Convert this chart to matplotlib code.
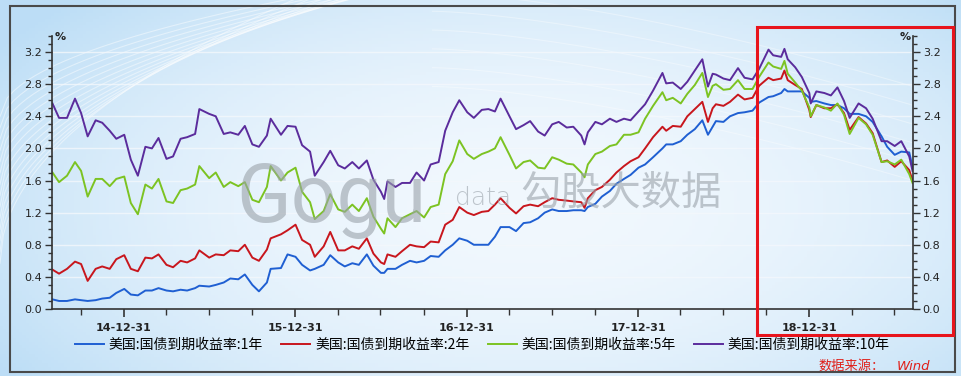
import matplotlib
matplotlib.use("Agg")
import numpy as np
import pandas as pd
import matplotlib.pyplot as plt
import matplotlib.dates as mdates
from matplotlib.patches import Rectangle
from matplotlib.ticker import MultipleLocator

# ---- data (roughly semi-monthly) ----
dates = [
    # 2014
    "2014-08-01", "2014-08-15", "2014-09-01", "2014-09-18", "2014-10-01", "2014-10-15",
    "2014-11-01", "2014-11-15", "2014-12-01", "2014-12-15",
    # 2015
    "2015-01-01", "2015-01-15", "2015-01-30", "2015-02-15", "2015-03-01", "2015-03-15",
    "2015-04-01", "2015-04-15", "2015-05-01", "2015-05-15", "2015-06-01", "2015-06-10",
    "2015-07-01", "2015-07-15", "2015-08-01", "2015-08-15", "2015-09-01", "2015-09-15",
    "2015-10-01", "2015-10-15", "2015-11-01", "2015-11-09", "2015-12-01", "2015-12-15",
    # 2016
    "2016-01-01", "2016-01-15", "2016-02-01", "2016-02-11", "2016-03-01", "2016-03-15",
    "2016-04-01", "2016-04-15", "2016-05-01", "2016-05-15", "2016-06-01", "2016-06-15",
    "2016-07-01", "2016-07-08", "2016-07-15", "2016-08-01", "2016-08-15", "2016-09-01",
    "2016-09-15", "2016-10-01", "2016-10-15", "2016-11-01", "2016-11-15", "2016-12-01",
    "2016-12-15",
    # 2017
    "2017-01-01", "2017-01-15", "2017-02-01", "2017-02-15", "2017-03-01", "2017-03-13",
    "2017-04-01", "2017-04-15", "2017-05-01", "2017-05-15", "2017-06-01", "2017-06-15",
    "2017-07-01", "2017-07-15", "2017-08-01", "2017-08-15", "2017-09-01", "2017-09-08",
    "2017-09-15", "2017-10-01", "2017-10-15", "2017-11-01", "2017-11-15", "2017-12-01",
    "2017-12-15",
    # 2018
    "2018-01-01", "2018-01-15", "2018-02-01", "2018-02-21", "2018-03-01", "2018-03-15",
    "2018-04-01", "2018-04-15", "2018-05-01", "2018-05-17", "2018-05-29", "2018-06-08",
    "2018-06-15", "2018-07-01", "2018-07-15", "2018-08-01", "2018-08-15", "2018-09-01",
    "2018-09-15", "2018-10-05", "2018-10-15", "2018-11-01", "2018-11-08", "2018-11-15",
    "2018-12-01", "2018-12-15", "2018-12-31",
    # 2019
    "2019-01-03", "2019-01-15", "2019-02-01", "2019-02-15", "2019-03-01", "2019-03-15",
    "2019-03-27", "2019-04-15", "2019-05-01", "2019-05-15", "2019-06-03", "2019-06-15",
    "2019-07-01", "2019-07-15", "2019-08-01", "2019-08-08",
]

y1 = [0.12, 0.10, 0.10, 0.12, 0.11, 0.10, 0.11, 0.13, 0.14, 0.20,
      0.25, 0.18, 0.17, 0.23, 0.23, 0.26, 0.23, 0.22, 0.24, 0.23, 0.26, 0.29,
      0.28, 0.30, 0.33, 0.38, 0.37, 0.43, 0.30, 0.22, 0.33, 0.50, 0.51, 0.68,
      0.65, 0.55, 0.48, 0.50, 0.55, 0.67, 0.58, 0.53, 0.57, 0.55, 0.68, 0.54,
      0.45, 0.45, 0.50, 0.50, 0.55, 0.60, 0.58, 0.60, 0.66, 0.65, 0.73, 0.80, 0.88,
      0.85, 0.80, 0.80, 0.80, 0.90, 1.02, 1.02, 0.97, 1.07, 1.08, 1.13, 1.20,
      1.24, 1.22, 1.22, 1.23, 1.23, 1.22, 1.27, 1.31, 1.40, 1.47, 1.56, 1.62, 1.67,
      1.76, 1.80, 1.89, 2.00, 2.05, 2.05, 2.09, 2.17, 2.24, 2.35, 2.17, 2.27,
      2.34, 2.33, 2.40, 2.44, 2.45, 2.47, 2.57, 2.64, 2.65, 2.69, 2.74, 2.71,
      2.71, 2.71, 2.63,
      2.58, 2.59, 2.56, 2.54, 2.54, 2.50, 2.43, 2.43, 2.40, 2.33, 2.15, 2.02,
      1.92, 1.96, 1.95, 1.77]

y2 = [0.49, 0.44, 0.50, 0.59, 0.56, 0.35, 0.50, 0.53, 0.50, 0.62,
      0.67, 0.50, 0.47, 0.64, 0.63, 0.68, 0.55, 0.52, 0.60, 0.58, 0.63, 0.73,
      0.64, 0.68, 0.67, 0.73, 0.72, 0.80, 0.64, 0.60, 0.74, 0.88, 0.93, 0.98,
      1.05, 0.86, 0.80, 0.65, 0.78, 0.96, 0.73, 0.73, 0.78, 0.75, 0.88, 0.69,
      0.58, 0.56, 0.68, 0.65, 0.72, 0.80, 0.78, 0.77, 0.84, 0.83, 1.05, 1.11, 1.27,
      1.20, 1.17, 1.21, 1.22, 1.30, 1.38, 1.26, 1.19, 1.28, 1.30, 1.28, 1.33,
      1.38, 1.36, 1.35, 1.34, 1.33, 1.26, 1.38, 1.48, 1.52, 1.61, 1.70, 1.78, 1.84,
      1.89, 2.00, 2.14, 2.27, 2.22, 2.28, 2.27, 2.40, 2.49, 2.58, 2.33, 2.50,
      2.55, 2.53, 2.58, 2.67, 2.61, 2.63, 2.78, 2.88, 2.85, 2.87, 2.97, 2.85,
      2.79, 2.74, 2.48,
      2.39, 2.54, 2.50, 2.50, 2.55, 2.44, 2.23, 2.39, 2.31, 2.19, 1.83, 1.85,
      1.77, 1.84, 1.73, 1.60]

y5 = [1.70, 1.58, 1.66, 1.83, 1.72, 1.40, 1.62, 1.62, 1.53, 1.62,
      1.65, 1.32, 1.18, 1.55, 1.50, 1.62, 1.34, 1.32, 1.48, 1.50, 1.55, 1.78,
      1.63, 1.70, 1.52, 1.58, 1.53, 1.58, 1.36, 1.33, 1.52, 1.78, 1.60, 1.70,
      1.76, 1.46, 1.33, 1.12, 1.22, 1.43, 1.24, 1.21, 1.30, 1.22, 1.38, 1.15,
      1.00, 0.94, 1.13, 1.02, 1.13, 1.18, 1.22, 1.14, 1.27, 1.30, 1.68, 1.84, 2.10,
      1.93, 1.87, 1.93, 1.96, 2.00, 2.14, 1.92, 1.75, 1.83, 1.85, 1.76, 1.75,
      1.89, 1.86, 1.81, 1.80, 1.70, 1.64, 1.80, 1.93, 1.96, 2.03, 2.05, 2.17, 2.17,
      2.20, 2.37, 2.53, 2.70, 2.60, 2.63, 2.56, 2.68, 2.79, 2.94, 2.64, 2.78,
      2.80, 2.73, 2.74, 2.85, 2.74, 2.74, 2.89, 3.07, 3.02, 2.99, 3.09, 2.93,
      2.82, 2.72, 2.51,
      2.40, 2.54, 2.51, 2.47, 2.56, 2.42, 2.18, 2.38, 2.30, 2.17, 1.83, 1.84,
      1.80, 1.86, 1.68, 1.57]

y10 = [2.56, 2.38, 2.38, 2.62, 2.44, 2.15, 2.35, 2.32, 2.22, 2.12,
       2.17, 1.86, 1.66, 2.02, 2.00, 2.13, 1.87, 1.90, 2.12, 2.14, 2.18, 2.49,
       2.43, 2.40, 2.18, 2.20, 2.17, 2.28, 2.05, 2.02, 2.16, 2.37, 2.17, 2.28,
       2.27, 2.04, 1.96, 1.66, 1.83, 1.97, 1.79, 1.75, 1.83, 1.75, 1.85, 1.61,
       1.46, 1.37, 1.59, 1.52, 1.57, 1.57, 1.70, 1.60, 1.80, 1.83, 2.22, 2.45, 2.60,
       2.45, 2.38, 2.48, 2.49, 2.46, 2.62, 2.40, 2.24, 2.29, 2.34, 2.21, 2.16,
       2.30, 2.33, 2.26, 2.27, 2.16, 2.05, 2.20, 2.33, 2.30, 2.37, 2.33, 2.37, 2.35,
       2.46, 2.55, 2.72, 2.94, 2.81, 2.82, 2.74, 2.83, 2.97, 3.11, 2.77, 2.93,
       2.92, 2.87, 2.85, 3.00, 2.88, 2.86, 2.99, 3.23, 3.16, 3.14, 3.24, 3.11,
       3.01, 2.89, 2.69,
       2.56, 2.71, 2.69, 2.66, 2.76, 2.59, 2.38, 2.56, 2.50, 2.37, 2.09, 2.09,
       2.03, 2.09, 1.90, 1.72]

labels = ["美国:国债到期收益率:1年", "美国:国债到期收益率:2年",
          "美国:国债到期收益率:5年", "美国:国债到期收益率:10年"]
colors = ["#1f5fd2", "#c8161d", "#7cc322", "#5b2c9c"]

x = pd.to_datetime(dates)
assert len(x) == len(y1) == len(y2) == len(y5) == len(y10)

cjk = ["Noto Sans CJK SC", "DejaVu Sans"]
plt.rcParams["font.family"] = cjk

W, H = 961, 376
fig = plt.figure(figsize=(W / 100, H / 100), dpi=100)

# background gradient
bg = fig.add_axes([0, 0, 1, 1], zorder=-5)
gx, gy = np.meshgrid(np.linspace(0, 1, 300), np.linspace(0, 1, 120))
d = np.clip(((gx - 0.55) / 0.65) ** 2 + ((gy - 0.45) / 0.8) ** 2, 0, 1)
c_in = np.array([0.945, 0.972, 0.995])
c_out = np.array([0.74, 0.87, 0.965])
img = c_in[None, None, :] * (1 - d[..., None]) + c_out[None, None, :] * d[..., None]
bg.imshow(img, extent=[0, 1, 0, 1], aspect="auto", origin="lower")
# decorative swooshes
for k in range(14):
    t = np.linspace(0, 1, 100)
    bx = t * (0.35 + 0.03 * k)
    by = 0.30 + 0.03 * k + (0.75 - 0.02 * k) * np.sqrt(t)
    bg.plot(bx, by, color="white", lw=0.8, alpha=0.45)
for k in range(6):
    t = np.linspace(0, 1, 100)
    bg.plot(0.45 + 0.5 * t, 1.02 - 0.05 * k - 0.25 * t ** 1.5, color="white", lw=0.8, alpha=0.35)
bg.set_xlim(0, 1)
bg.set_ylim(0, 1)
bg.axis("off")

ax = fig.add_axes([52 / W, 1 - 309 / H, (913 - 52) / W, (309 - 36) / H])
ax.patch.set_alpha(0)

for ys, lab, c in zip([y1, y2, y5, y10], labels, colors):
    ax.plot(x, ys, color=c, lw=1.4, label=lab)

ax.set_xlim(pd.Timestamp("2014-07-31"), pd.Timestamp("2019-08-09"))
ax.set_ylim(0, 3.4)

ax.xaxis.set_major_locator(mdates.MonthLocator(bymonth=12, bymonthday=31))
ax.xaxis.set_minor_locator(mdates.MonthLocator(bymonth=[3, 6, 9, 12], bymonthday=-1))
ax.xaxis.set_major_formatter(mdates.DateFormatter("%y-%m-%d"))
ax.yaxis.set_major_locator(MultipleLocator(0.4))
ax.yaxis.set_minor_locator(MultipleLocator(0.1))
ax.yaxis.set_major_formatter(matplotlib.ticker.FormatStrFormatter("%.1f"))

ax.tick_params(axis="x", which="major", length=6, width=1.2, color="#333333", pad=4,
               labelsize=8, labelcolor="#222222")
ax.tick_params(axis="x", which="minor", length=4, width=1, color="#333333")
ax.tick_params(axis="y", which="both", left=True, right=True, labelleft=True,
               labelright=True, color="#333333")
ax.tick_params(axis="y", which="major", length=5, width=1, pad=2, labelsize=8,
               labelcolor="#222222")
ax.tick_params(axis="y", which="minor", length=3, width=1)
for lab in ax.get_xticklabels():
    lab.set_fontfamily("DejaVu Sans")
    lab.set_fontweight("bold")
for lab in ax.get_yticklabels():
    lab.set_fontfamily("DejaVu Sans")

for s in ["left", "right", "bottom"]:
    ax.spines[s].set_color("#333333")
    ax.spines[s].set_linewidth(1.2)
ax.spines["top"].set_visible(False)
ax.grid(axis="y", which="major", color="#f4f8fc", lw=1.0, alpha=0.8)
ax.set_axisbelow(True)

ax.text(0.003, 0.995, "%", transform=ax.transAxes, ha="left", va="center",
        fontsize=8, fontweight="bold", family="DejaVu Sans", color="#222222")
ax.text(0.997, 0.995, "%", transform=ax.transAxes, ha="right", va="center",
        fontsize=8, fontweight="bold", family="DejaVu Sans", color="#222222")

# watermark
wm = "#9aa2aa"
fig.text(236 / W, 1 - 222 / H, "Gogu", fontsize=58, family="Roboto", color=wm,
         alpha=0.6, ha="left", va="baseline")
fig.text(455 / W, 1 - 205 / H, "data", fontsize=18, family="DejaVu Sans", color=wm,
         alpha=0.6, ha="left", va="baseline", fontweight="light")
fig.text(520 / W, 1 - 193 / H, "勾股大数据", fontsize=29, family=cjk, color=wm,
         alpha=0.6, ha="left", va="center")

# legend
fig.legend(loc="center", bbox_to_anchor=(0.502, 1 - 345 / H), ncol=4, frameon=False,
           prop={"family": cjk, "size": 10}, handlelength=2.1, handletextpad=0.35,
           columnspacing=1.3)

# source note
fig.text(885 / W, 1 - 366 / H, "数据来源：", fontsize=9.5, family=cjk, color="#e0201a",
         ha="right", va="center")
fig.text(897 / W, 1 - 366 / H, "Wind", fontsize=9.5, family="DejaVu Sans",
         style="italic", color="#e0201a", ha="left", va="center")

# outer frame and highlight box
fig.patches.append(Rectangle((10 / W, 1 - 372 / H), 945 / W, 366 / H,
                             transform=fig.transFigure, fill=False, ec="#4a4a4a", lw=1.5))
fig.patches.append(Rectangle((757 / W, 1 - 335 / H), 196 / W, 308 / H,
                             transform=fig.transFigure, fill=False, ec="#e8141c", lw=2.2,
                             zorder=10))

fig.savefig("out.png", dpi=100)
